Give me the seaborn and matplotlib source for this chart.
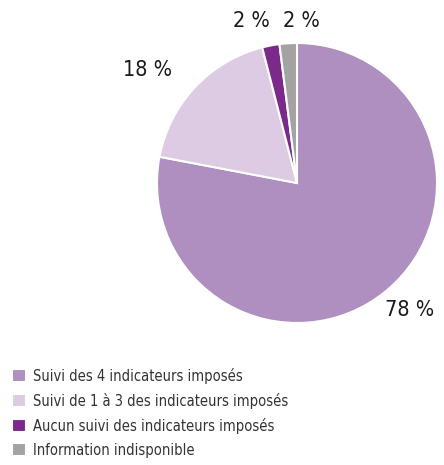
import matplotlib
matplotlib.use("Agg")
import matplotlib.pyplot as plt
import seaborn as sns
import numpy as np

# Données
categories = [
    "Suivi des 4 indicateurs imposés",
    "Suivi de 1 à 3 des indicateurs imposés",
    "Aucun suivi des indicateurs imposés",
    "Information indisponible",
]
valeurs = [78, 18, 2, 2]
etiquettes = ["78 %", "18 %", "2 %", "2 %"]
couleurs = ["#AE8FC0", "#DDCBE3", "#7B2A8C", "#A3A3A3"]

sns.set_theme(style="white")
plt.rcParams["font.family"] = ["DejaVu Sans"]

fig = plt.figure(figsize=(4.44, 4.65), dpi=100)
ax = fig.add_axes([157 / 444, 142 / 465, 280 / 444, 280 / 465])

wedges, _ = ax.pie(
    valeurs,
    colors=sns.color_palette(couleurs),
    startangle=90,
    counterclock=False,
    radius=1.0,
    wedgeprops=dict(edgecolor="white", linewidth=1.5),
)
ax.set_xlim(-1, 1)
ax.set_ylim(-1, 1)
ax.set_aspect("equal")
ax.axis("off")

# placement des étiquettes (décalage angulaire, distance)
reglages = [(2, 1.21), (6, 1.34), (5, 1.20), (-5, 1.16)]
for w, txt, (dang, dist) in zip(wedges, etiquettes, reglages):
    ang = np.deg2rad((w.theta1 + w.theta2) / 2 + dang)
    ax.text(dist * np.cos(ang), dist * np.sin(ang), txt,
            ha="center", va="center", fontsize=15.5, color="#1a1a1a",
            fontstretch="condensed", fontweight="medium", clip_on=False)

leg = fig.legend(
    wedges, categories,
    loc="upper left", bbox_to_anchor=(0.015, 0.222),
    frameon=False, handlelength=0.95, handleheight=0.95,
    handletextpad=0.45, labelspacing=0.62, borderaxespad=0,
    prop=dict(size=10.5, stretch="condensed"),
)
for t in leg.get_texts():
    t.set_color("#333333")

fig.savefig("out.png", dpi=100)
